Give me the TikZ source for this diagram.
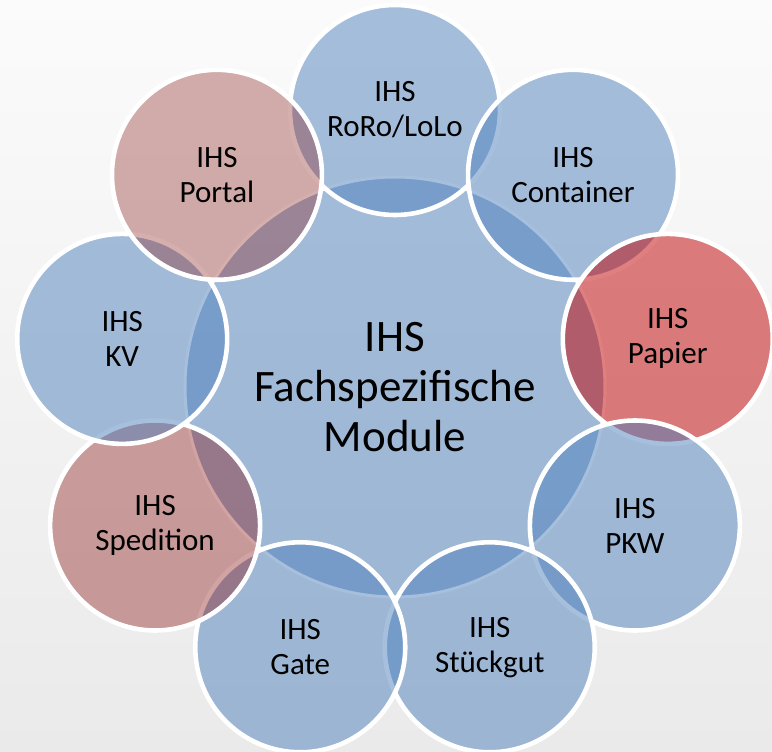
\documentclass[tikz,border=0pt]{standalone}
\usepackage{fontspec}
\setmainfont{Carlito}
\definecolor{oblue}{RGB}{79,129,189}
\definecolor{ored}{RGB}{192,0,0}
\definecolor{orose}{RGB}{140,35,30}
\definecolor{orosedark}{RGB}{140,25,25}
\definecolor{bgtop}{RGB}{251,251,251}
\definecolor{bgbot}{RGB}{234,234,234}
\begin{document}
\begin{tikzpicture}[x=1pt,y=1pt,
  bubble/.style={circle, draw=white, line width=4.6pt, minimum size=210pt,
    inner sep=0pt, align=center, draw opacity=1, text opacity=1,
    text=black, font=\fontsize{31}{35}\selectfont},
  bluebubble/.style={bubble, fill=oblue, fill opacity=0.5},
  redbubble/.style={bubble, fill=ored, fill opacity=0.5},
  rosebubble/.style={bubble, fill=orose, fill opacity=0.36},
  rosedarkbubble/.style={bubble, fill=orosedark, fill opacity=0.4},
  hub/.style={circle, draw=white, line width=3pt, minimum size=420pt,
    inner sep=0pt, align=center, fill=oblue, fill opacity=0.5,
    text opacity=1, text=black, font=\fontsize{45}{50}\selectfont}]
\useasboundingbox (-395,-365) rectangle (377,387);
\shade[top color=bgtop, bottom color=bgbot] (-395,-365) rectangle (377,387);
\node[hub] (hub) at (0,0) {IHS\\Fachspezifische\\Module};
\node[bluebubble] (roro) at (90:277) {IHS\\RoRo/LoLo};
\node[bluebubble] (container) at (50:277) {IHS\\Container};
\node[redbubble] (papier) at (10:277) {IHS\\Papier};
\node[bluebubble] (pkw) at (-30:277) {IHS\\PKW};
\node[bluebubble] (stueckgut) at (-70:277) {IHS\\Stückgut};
\node[bluebubble] (gate) at (-110:277) {IHS\\Gate};
\node[rosedarkbubble] (spedition) at (-150:277) {IHS\\Spedition};
\node[bluebubble] (kv) at (170:277) {IHS\\KV};
\node[rosebubble] (portal) at (130:277) {IHS\\Portal};
\end{tikzpicture}
\end{document}
